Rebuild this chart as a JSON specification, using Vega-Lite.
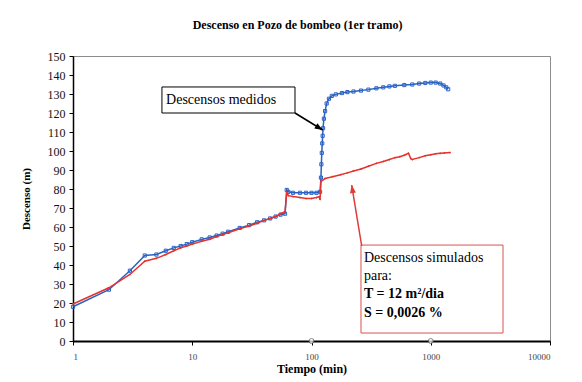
{
  "$schema": "https://vega.github.io/schema/vega-lite/v6.json",
  "width": 477,
  "height": 285,
  "autosize": "none",
  "padding": {"left": 73, "top": 56, "right": 32, "bottom": 41},
  "background": "white",
  "config": {"view": {"stroke": "#8c8c8c", "strokeWidth": 1}, "font": "Liberation Serif"},
  "title": {"text": "Descenso en Pozo de bombeo (1er tramo)", "font": "Liberation Serif", "fontSize": 12, "fontWeight": "bold", "anchor": "middle", "offset": 18, "dx": -14, "color": "#000"},
  "datasets": {
    "medidos": [
      {"t": 1, "v": 18}, {"t": 2, "v": 27}, {"t": 3, "v": 37}, {"t": 4, "v": 45}, {"t": 5, "v": 45.5},
      {"t": 6, "v": 47.5}, {"t": 7, "v": 49}, {"t": 8, "v": 50}, {"t": 9, "v": 51}, {"t": 10, "v": 52},
      {"t": 12, "v": 53.5}, {"t": 14, "v": 54.5}, {"t": 16, "v": 55.5}, {"t": 18, "v": 56.5}, {"t": 20, "v": 57.5},
      {"t": 25, "v": 59.5}, {"t": 30, "v": 61}, {"t": 35, "v": 62.5}, {"t": 40, "v": 63.5}, {"t": 45, "v": 64.5},
      {"t": 50, "v": 65.5}, {"t": 55, "v": 66.5}, {"t": 60, "v": 67}, {"t": 62, "v": 79.5}, {"t": 64, "v": 78.5},
      {"t": 70, "v": 78}, {"t": 80, "v": 78}, {"t": 90, "v": 78}, {"t": 100, "v": 78}, {"t": 110, "v": 78},
      {"t": 118, "v": 78.5}, {"t": 120, "v": 86}, {"t": 121, "v": 93}, {"t": 122, "v": 99}, {"t": 123, "v": 104},
      {"t": 124, "v": 108}, {"t": 125, "v": 112}, {"t": 127, "v": 117}, {"t": 130, "v": 121}, {"t": 134, "v": 125},
      {"t": 140, "v": 127.5}, {"t": 148, "v": 129}, {"t": 160, "v": 129.8}, {"t": 180, "v": 130.5}, {"t": 200, "v": 131},
      {"t": 225, "v": 131.3}, {"t": 260, "v": 131.8}, {"t": 300, "v": 132.3}, {"t": 350, "v": 133}, {"t": 400, "v": 133.5},
      {"t": 450, "v": 134}, {"t": 500, "v": 134.3}, {"t": 600, "v": 134.7}, {"t": 700, "v": 135}, {"t": 800, "v": 135.5},
      {"t": 900, "v": 135.8}, {"t": 1000, "v": 136}, {"t": 1100, "v": 136}, {"t": 1200, "v": 135.5}, {"t": 1280, "v": 134.5},
      {"t": 1350, "v": 133.5}, {"t": 1400, "v": 132.5}
    ],
    "simulados": [
      {"t": 1, "v": 19.5}, {"t": 2, "v": 28}, {"t": 3, "v": 35}, {"t": 4, "v": 42}, {"t": 5, "v": 43.5},
      {"t": 6, "v": 45.5}, {"t": 7, "v": 47.5}, {"t": 8, "v": 49}, {"t": 9, "v": 50}, {"t": 10, "v": 51},
      {"t": 12, "v": 52.5}, {"t": 14, "v": 53.5}, {"t": 16, "v": 55}, {"t": 18, "v": 56}, {"t": 20, "v": 57},
      {"t": 25, "v": 59}, {"t": 30, "v": 60.5}, {"t": 35, "v": 62}, {"t": 40, "v": 63.5}, {"t": 45, "v": 64.5},
      {"t": 50, "v": 65.5}, {"t": 55, "v": 67}, {"t": 60, "v": 68}, {"t": 62, "v": 78}, {"t": 64, "v": 76.5},
      {"t": 70, "v": 76}, {"t": 80, "v": 75.5}, {"t": 90, "v": 75}, {"t": 100, "v": 75}, {"t": 110, "v": 75.5},
      {"t": 116, "v": 76}, {"t": 118, "v": 74.5}, {"t": 120, "v": 84}, {"t": 130, "v": 85.5}, {"t": 150, "v": 86.5},
      {"t": 175, "v": 87.5}, {"t": 200, "v": 88.5}, {"t": 225, "v": 89.5}, {"t": 260, "v": 90.5}, {"t": 300, "v": 92},
      {"t": 350, "v": 93.5}, {"t": 400, "v": 94.5}, {"t": 450, "v": 95.5}, {"t": 500, "v": 96.5}, {"t": 550, "v": 97},
      {"t": 600, "v": 97.8}, {"t": 650, "v": 98.8}, {"t": 680, "v": 96}, {"t": 700, "v": 95.5}, {"t": 800, "v": 96.5},
      {"t": 900, "v": 97.5}, {"t": 1000, "v": 98}, {"t": 1100, "v": 98.5}, {"t": 1200, "v": 98.8}, {"t": 1300, "v": 99},
      {"t": 1450, "v": 99.2}
    ],
    "axisMarks": [{"t": 100, "v": 0}, {"t": 1000, "v": 0}],
    "box1": [{"t": 5.57, "t2": 72.7, "v": 133.7, "v2": 120}],
    "text1": [{"t": 6.03, "v": 126.8, "label": "Descensos medidos"}],
    "arrow1": [{"t": 72.7, "v": 120, "t2": 124.1, "v2": 111.05}],
    "head1": [{"t": 124.1, "v": 111.05}],
    "box2": [{"t": 260, "t2": 4036, "v": 50.5, "v2": 4.2}],
    "text2": [{"t": 275.5, "v": 41.7, "label": "Descensos simulados"}, {"t": 275.5, "v": 32.1, "label": "para:"}],
    "text3": [{"t": 275.5, "v": 22.6, "label": "T = 12 m²/dia"}, {"t": 275.5, "v": 12.8, "label": "S = 0,0026 %"}],
    "arrow2": [{"t": 263.6, "v": 50, "t2": 217.3, "v2": 82.1}],
    "head2": [{"t": 217.3, "v": 82.1}]
  },
  "encoding": {
    "x": {"field": "t", "type": "quantitative", "scale": {"type": "log", "domain": [1, 10000]},
      "axis": {"title": "Tiempo (min)", "values": [1, 10, 100, 1000, 10000], "format": "d", "grid": false, "labelOverlap": false, "domainColor": "#000", "domainWidth": 2, "tickColor": "#000", "tickSize": 4, "labelFont": "Liberation Serif", "labelFontSize": 9, "labelColor": "#444", "labelPadding": 7, "titleFont": "Liberation Serif", "titleFontSize": 12, "titleFontWeight": "bold", "titleColor": "#000", "titlePadding": 2}},
    "y": {"field": "v", "type": "quantitative", "scale": {"domain": [0, 150]},
      "axis": {"title": "Descenso (m)", "values": [0, 10, 20, 30, 40, 50, 60, 70, 80, 90, 100, 110, 120, 130, 140, 150], "grid": false, "labelOverlap": false, "domainColor": "#000", "domainWidth": 1.5, "tickColor": "#000", "tickSize": 4, "labelFont": "Liberation Serif", "labelFontSize": 12, "labelColor": "#111", "labelPadding": 4, "titleFont": "Liberation Serif", "titleFontSize": 11, "titleFontWeight": "bold", "titleColor": "#000", "titlePadding": 16}}
  },
  "layer": [
    {
      "data": {"name": "medidos"},
      "mark": {"type": "line", "color": "#2a62c4", "strokeWidth": 1.5, "point": {"shape": "square", "filled": false, "size": 10, "color": "#2a62c4", "strokeWidth": 1}}
    },
    {
      "data": {"name": "simulados"},
      "mark": {"type": "line", "color": "#e5322d", "strokeWidth": 1.5, "point": {"shape": "diamond", "filled": true, "size": 5, "color": "#e5322d"}}
    },
    {
      "data": {"name": "axisMarks"},
      "mark": {"type": "point", "shape": "circle", "filled": true, "fill": "white", "stroke": "#555", "strokeWidth": 1, "size": 25, "clip": false}
    },
    {
      "data": {"name": "box1"},
      "mark": {"type": "rect", "fill": "white", "stroke": "#000", "strokeWidth": 1},
      "encoding": {"x2": {"field": "t2"}, "y2": {"field": "v2"}}
    },
    {
      "data": {"name": "text1"},
      "mark": {"type": "text", "font": "Liberation Serif", "fontSize": 14, "align": "left", "baseline": "middle", "color": "#000"},
      "encoding": {"text": {"field": "label"}}
    },
    {
      "data": {"name": "arrow1"},
      "mark": {"type": "rule", "color": "#000", "strokeWidth": 1.5},
      "encoding": {"x2": {"field": "t2"}, "y2": {"field": "v2"}}
    },
    {
      "data": {"name": "head1"},
      "mark": {"type": "point", "shape": "M0,0L-0.6,1.6L0.6,1.6Z", "filled": true, "color": "#000", "size": 100, "angle": 121.5, "opacity": 1}
    },
    {
      "data": {"name": "box2"},
      "mark": {"type": "rect", "fill": "white", "stroke": "#d9534f", "strokeWidth": 1},
      "encoding": {"x2": {"field": "t2"}, "y2": {"field": "v2"}}
    },
    {
      "data": {"name": "text2"},
      "mark": {"type": "text", "font": "Liberation Serif", "fontSize": 14, "align": "left", "baseline": "alphabetic", "color": "#000"},
      "encoding": {"text": {"field": "label"}}
    },
    {
      "data": {"name": "text3"},
      "mark": {"type": "text", "font": "Liberation Serif", "fontSize": 14, "fontWeight": "bold", "align": "left", "baseline": "alphabetic", "color": "#000"},
      "encoding": {"text": {"field": "label"}}
    },
    {
      "data": {"name": "arrow2"},
      "mark": {"type": "rule", "color": "#e03a3a", "strokeWidth": 1.5},
      "encoding": {"x2": {"field": "t2"}, "y2": {"field": "v2"}}
    },
    {
      "data": {"name": "head2"},
      "mark": {"type": "point", "shape": "M0,0L-0.6,1.6L0.6,1.6Z", "filled": true, "color": "#e03a3a", "size": 100, "angle": -9.3, "opacity": 1}
    }
  ]
}
